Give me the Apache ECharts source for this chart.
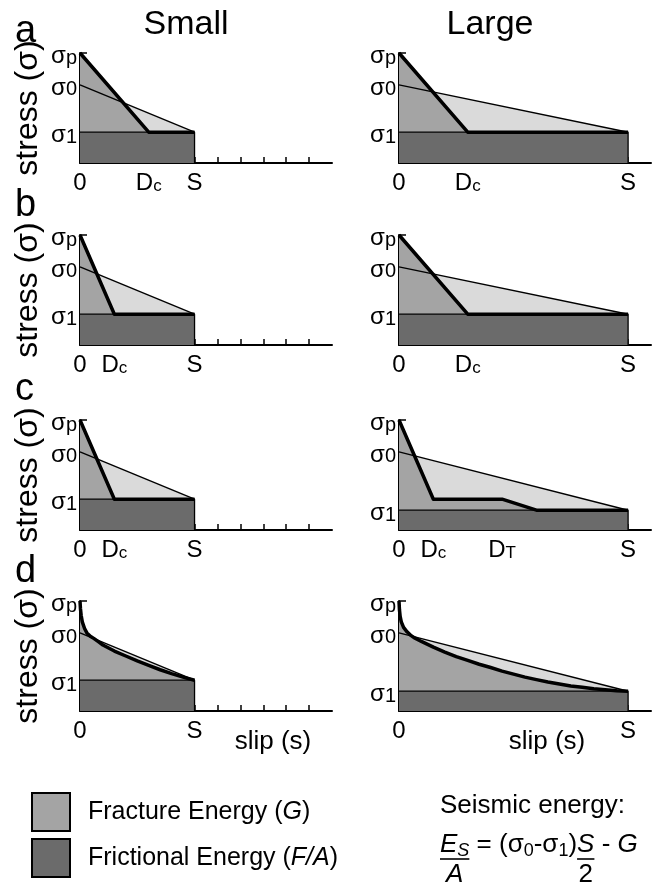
<!DOCTYPE html>
<html><head><meta charset="utf-8">
<script src="https://cdn.jsdelivr.net/npm/echarts@6/dist/echarts.min.js"></script>
<style>html,body{margin:0;padding:0;background:#fff}#c{width:667px;height:888px}</style>
</head><body><div id="c"></div>
<script>
// ---------------- data ----------------
const sigmaNames = ['σp', 'σ0', 'σ1'];
const sigmaLevels = [10, 7.1, 2.8];
const sigmaLevelsLow = [10, 7.1, 1.8];
const slipTicks = [1, 2, 3, 4, 5, 6, 7, 8, 9, 10];
const slipMax = 11;

const aSmallThick = [[0, 10], [3, 2.8], [5, 2.8]];
const aSmallThin = [[0, 7.1], [5, 2.8]];
const aSmallLabelPos = [0, 3, 5];
const aSmallLabelText = ['0', 'Dc', 'S'];

const aLargeThick = [[0, 10], [3, 2.8], [10, 2.8]];
const aLargeThin = [[0, 7.1], [10, 2.8]];
const aLargeLabelPos = [0, 3, 10];
const aLargeLabelText = ['0', 'Dc', 'S'];

const bSmallThick = [[0, 10], [1.5, 2.8], [5, 2.8]];
const bSmallThin = [[0, 7.1], [5, 2.8]];
const bSmallLabelPos = [0, 1.5, 5];
const bSmallLabelText = ['0', 'Dc', 'S'];

const bLargeThick = [[0, 10], [3, 2.8], [10, 2.8]];
const bLargeThin = [[0, 7.1], [10, 2.8]];
const bLargeLabelPos = [0, 3, 10];
const bLargeLabelText = ['0', 'Dc', 'S'];

const cSmallThick = [[0, 10], [1.5, 2.8], [5, 2.8]];
const cSmallThin = [[0, 7.1], [5, 2.8]];
const cSmallLabelPos = [0, 1.5, 5];
const cSmallLabelText = ['0', 'Dc', 'S'];

const cLargeThick = [[0, 10], [1.5, 2.8], [4.5, 2.8], [6, 1.8], [10, 1.8]];
const cLargeThin = [[0, 7.1], [10, 1.8]];
const cLargeLabelPos = [0, 1.5, 4.5, 10];
const cLargeLabelText = ['0', 'Dc', 'DT', 'S'];

const dSmallThick = [[0, 10], [0.02, 9.3], [0.05, 8.7], [0.1, 8.1], [0.2, 7.5], [0.3, 7.1], [0.45, 6.8], [0.6, 6.6], [0.8, 6.3], [1, 6.0], [1.5, 5.45], [2, 5.0], [2.5, 4.55], [3, 4.15], [3.5, 3.75], [4, 3.4], [4.5, 3.08], [5, 2.8]];
const dSmallThin = [[0, 7.1], [5, 2.8]];
const dSmallLabelPos = [0, 5];
const dSmallLabelText = ['0', 'S'];

const dLargeThick = [[0, 10], [0.02, 9.2], [0.05, 8.6], [0.1, 8.1], [0.2, 7.6], [0.35, 7.2], [0.5, 6.9], [0.7, 6.62], [1, 6.3], [1.5, 5.8], [2, 5.36], [2.5, 4.95], [3, 4.6], [3.5, 4.25], [4, 3.95], [4.5, 3.63], [5, 3.35], [5.5, 3.08], [6, 2.85], [6.5, 2.63], [7, 2.45], [7.5, 2.28], [8, 2.15], [8.5, 2.02], [9, 1.93], [9.5, 1.85], [10, 1.8]];
const dLargeThin = [[0, 7.1], [10, 1.8]];
const dLargeLabelPos = [0, 10];
const dLargeLabelText = ['0', 'S'];

const panelLetters = ['a', 'b', 'c', 'd'];
const columnTitles = ['Small', 'Large'];

// ---------------- style / layout ----------------
const FONT = '"Liberation Sans", Arial, Helvetica, sans-serif';
const LIGHT = '#dadada', MED = '#a4a4a4', DARK = '#6b6b6b';
const colLeft = [80, 399];
const gridW = 252;
const rowBottom = [163, 345, 530, 711];
const gridH = 110;

const panels = [
  [0, 0, aSmallThick, aSmallThin, sigmaLevels, aSmallLabelPos, aSmallLabelText],
  [1, 0, aLargeThick, aLargeThin, sigmaLevels, aLargeLabelPos, aLargeLabelText],
  [0, 1, bSmallThick, bSmallThin, sigmaLevels, bSmallLabelPos, bSmallLabelText],
  [1, 1, bLargeThick, bLargeThin, sigmaLevels, bLargeLabelPos, bLargeLabelText],
  [0, 2, cSmallThick, cSmallThin, sigmaLevels, cSmallLabelPos, cSmallLabelText],
  [1, 2, cLargeThick, cLargeThin, sigmaLevelsLow, cLargeLabelPos, cLargeLabelText],
  [0, 3, dSmallThick, dSmallThin, sigmaLevels, dSmallLabelPos, dSmallLabelText],
  [1, 3, dLargeThick, dLargeThin, sigmaLevelsLow, dLargeLabelPos, dLargeLabelText]
];

const richX = {
  m: { fontSize: 24, fontFamily: FONT, color: '#000', lineHeight: 32, verticalAlign: 'bottom' },
  s: { fontSize: 17, fontFamily: FONT, color: '#000', lineHeight: 17, verticalAlign: 'bottom' }
};
const richY = {
  m: { fontSize: 24, fontFamily: FONT, color: '#000', lineHeight: 30, verticalAlign: 'bottom' },
  s: { fontSize: 20, fontFamily: FONT, color: '#000', lineHeight: 20, verticalAlign: 'bottom' }
};
function richLabel(t) {
  if (t.length > 1) return '{m|' + t[0] + '}{s|' + t.slice(1) + '}';
  return '{m|' + t + '}';
}
function pick(vals, texts, v) {
  for (let i = 0; i < vals.length; i++) if (Math.abs(vals[i] - v) < 1e-6) return texts[i];
  return '';
}

const grids = [], xAxes = [], yAxes = [], series = [];
panels.forEach((p, i) => {
  const [col, row, thick, thin, sig, lp, lt] = p;
  grids.push({ left: colLeft[col], top: rowBottom[row] - gridH, width: gridW, height: gridH,
    containLabel: false, outerBoundsMode: 'none' });
  const ticks = slipTicks.concat(lp.filter(v => v > 0 && !slipTicks.includes(v)));
  xAxes.push({
    type: 'value', gridIndex: i, min: 0, max: slipMax,
    axisLine: { show: true, lineStyle: { color: '#000', width: 2 } },
    axisTick: { show: true, inside: true, length: 6, lineStyle: { color: '#000', width: 1.5 }, customValues: ticks },
    axisLabel: { show: true, customValues: lp, margin: 0, formatter: v => richLabel(pick(lp, lt, v)), rich: richX },
    splitLine: { show: false }
  });
  yAxes.push({
    type: 'value', gridIndex: i, min: 0, max: 10,
    axisLine: { show: true, lineStyle: { color: '#000', width: 2 } },
    axisTick: { show: true, inside: true, length: 7, lineStyle: { color: '#000', width: 1.5 }, customValues: [sig[1], sig[0]] },
    axisLabel: { show: true, customValues: sig, margin: 3, formatter: v => richLabel(pick(sig, sigmaNames, v)), rich: richY },
    splitLine: { show: false },
    name: col === 0 ? 'stress (σ)' : '', nameLocation: 'middle', nameGap: 36, nameRotate: 90,
    nameTextStyle: { fontSize: 32, fontFamily: FONT, color: '#000' }
  });
  const S = thin[thin.length - 1][0], s1 = thin[thin.length - 1][1];
  const base = { type: 'line', xAxisIndex: i, yAxisIndex: i, symbol: 'none', silent: true, animation: false };
  series.push(Object.assign({}, base, { data: thin, lineStyle: { opacity: 0 }, areaStyle: { color: LIGHT, opacity: 1 }, z: 1 }));
  series.push(Object.assign({}, base, { data: thick, lineStyle: { opacity: 0 }, areaStyle: { color: MED, opacity: 1 }, z: 2 }));
  series.push(Object.assign({}, base, { data: [[0, s1], [S, s1], [S, 0]], lineStyle: { color: '#000', width: 1.3 }, areaStyle: { color: DARK, opacity: 1 }, z: 3 }));
  series.push(Object.assign({}, base, { data: thin, lineStyle: { color: '#000', width: 1.4 }, z: 4 }));
  series.push(Object.assign({}, base, { data: thick, lineStyle: { color: '#000', width: 3.5, join: 'round' }, z: 5 }));
});

// ---------------- text layout helpers ----------------
const mctx = document.createElement('canvas').getContext('2d');
function tw(t, font) { mctx.font = font; return mctx.measureText(t).width; }
function txt(t, x, y, size, opts) {
  opts = opts || {};
  const font = (opts.italic ? 'italic ' : '') + size + 'px ' + FONT;
  return { type: 'text', x: x, y: y, silent: true, z: 100,
    style: { text: t, font: font, fill: '#000', align: opts.align || 'left', verticalAlign: 'middle',
      textAlign: opts.align || 'left', textVerticalAlign: 'middle' } };
}
const graphics = [];
graphics.push(txt(columnTitles[0], 186, 25, 34, { align: 'center' }));
graphics.push(txt(columnTitles[1], 490, 25, 34, { align: 'center' }));
const letterBase = [45, 219, 403, 585];
panelLetters.forEach((l, i) => graphics.push(txt(l, 15, letterBase[i] - 13, 38)));
graphics.push(txt('slip (s)', 273, 742, 26, { align: 'center' }));
graphics.push(txt('slip (s)', 547, 742, 26, { align: 'center' }));
// legend
graphics.push({ type: 'rect', shape: { x: 32, y: 793, width: 38, height: 38 }, style: { fill: MED, stroke: '#000', lineWidth: 2 }, silent: true });
graphics.push({ type: 'rect', shape: { x: 32, y: 839, width: 38, height: 38 }, style: { fill: DARK, stroke: '#000', lineWidth: 2 }, silent: true });
function legendText(parts, x, y) {
  let cx = x;
  parts.forEach(([t, it]) => {
    graphics.push(txt(t, cx, y, 25, { italic: it }));
    cx += tw(t, (it ? 'italic ' : '') + '25px ' + FONT);
  });
}
legendText([['Fracture Energy (', false], ['G', true], [')', false]], 88, 812);
legendText([['Frictional Energy (', false], ['F/A', true], [')', false]], 88, 858);
// seismic energy formula
const FS = 26, SUB = 18;
const fx0 = 440, base = 853;
graphics.push(txt('Seismic energy:', fx0, 806, FS));
(function () {
  const mid = base - 0.33 * FS, subMid = base + 4 - 0.33 * SUB;
  const fN = FS + 'px ' + FONT, fI = 'italic ' + FS + 'px ' + FONT, fS = SUB + 'px ' + FONT, fSI = 'italic ' + SUB + 'px ' + FONT;
  let x = fx0;
  graphics.push(txt('E', x, mid, FS, { italic: true })); x += tw('E', fI);
  graphics.push(txt('S', x, subMid, SUB, { italic: true })); x += tw('S', fSI);
  graphics.push({ type: 'line', shape: { x1: fx0, y1: base + 6, x2: x, y2: base + 6 }, style: { stroke: '#000', lineWidth: 1.6 }, silent: true });
  graphics.push(txt('A', (fx0 + x) / 2, base + 22, FS, { italic: true, align: 'center' }));
  const seq = [[' = (σ', fN, FS], ['0', fS, SUB], ['-σ', fN, FS], ['1', fS, SUB], [')', fN, FS]];
  seq.forEach(([t, f, sz]) => {
    graphics.push(txt(t, x, sz === FS ? mid : subMid, sz)); x += tw(t, f);
  });
  const sx = x;
  graphics.push(txt('S', x, mid, FS, { italic: true })); x += tw('S', fI);
  graphics.push({ type: 'line', shape: { x1: sx, y1: base + 6, x2: x, y2: base + 6 }, style: { stroke: '#000', lineWidth: 1.6 }, silent: true });
  graphics.push(txt('2', (sx + x) / 2, base + 22, FS, { align: 'center' }));
  graphics.push(txt(' - ', x, mid, FS)); x += tw(' - ', fN);
  graphics.push(txt('G', x, mid, FS, { italic: true }));
})();

const chart = echarts.init(document.getElementById('c'), null, { renderer: 'canvas' });
chart.setOption({
  animation: false,
  backgroundColor: '#fff',
  grid: grids, xAxis: xAxes, yAxis: yAxes, series: series,
  graphic: { elements: graphics }
});
</script></body></html>
